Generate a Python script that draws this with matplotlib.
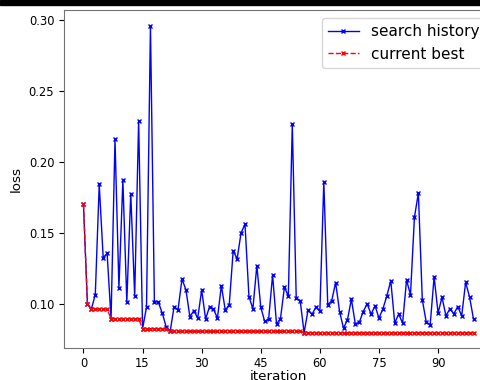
import matplotlib
matplotlib.use("Agg")
import matplotlib.pyplot as plt
from matplotlib.patches import Rectangle

# loss for each of the 100 search iterations
iteration = list(range(100))
search_history = [
    0.170, 0.100, 0.0963, 0.1065, 0.184, 0.1325, 0.1355, 0.0895, 0.2157, 0.1114,
    0.187, 0.1012, 0.1776, 0.1054, 0.2286, 0.0825, 0.0977, 0.2957, 0.1016, 0.1012,
    0.0935, 0.0837, 0.0806, 0.098, 0.0958, 0.1175, 0.110, 0.0911, 0.0951, 0.090,
    0.1098, 0.0893, 0.0981, 0.0963, 0.090, 0.1128, 0.0955, 0.0995, 0.1374, 0.1316,
    0.150, 0.1559, 0.1051, 0.0965, 0.1269, 0.0977, 0.0876, 0.0893, 0.1203, 0.0858,
    0.0895, 0.1117, 0.1056, 0.2262, 0.104, 0.1023, 0.0797, 0.0956, 0.0926, 0.0977,
    0.0948, 0.1858, 0.0993, 0.1021, 0.115, 0.0946, 0.0829, 0.0888, 0.1033, 0.0858,
    0.0869, 0.0946, 0.100, 0.0928, 0.0986, 0.090, 0.0965, 0.1056, 0.1163, 0.0865,
    0.0928, 0.0865, 0.1168, 0.1063, 0.1608, 0.178, 0.1028, 0.0872, 0.0853, 0.1191,
    0.0935, 0.1047, 0.0916, 0.0965, 0.093, 0.0981, 0.0916, 0.1152, 0.1047, 0.0893,
]
current_best = ([0.170, 0.100] + [0.0963] * 5 + [0.0895] * 8 + [0.0825] * 7
                + [0.0806] * 34 + [0.0797] * 44)

fig = plt.figure(figsize=(4.81, 3.80), dpi=100)
ax = fig.add_axes([0.133, 0.084, 0.892, 0.889])

ax.plot(iteration, search_history, color="blue", marker="x", markersize=3.5,
        linewidth=1.0, label="search history")
ax.plot(iteration, current_best, color="red", linestyle="--", marker="x",
        markersize=3.5, linewidth=1.0, label="current best")

ax.set_xticks(range(0, 100, 15))
ax.set_yticks([0.10, 0.15, 0.20, 0.25, 0.30])
ax.tick_params(labelsize=8.3)
ax.tick_params(axis="x", pad=2.8)
ax.set_xlabel("iteration", fontsize=9.7, labelpad=0.3)
ax.set_ylabel("loss", fontsize=9.7)
for s in ax.spines.values():
    s.set_color("0.45")
ax.legend(loc="upper right", fontsize=11)

# dark strip along the top edge of the original screenshot
fig.add_artist(Rectangle((0, 1 - 5 / 380), 1, 5 / 380, transform=fig.transFigure,
                         color="black", zorder=10))

fig.savefig("out.png", dpi=100)
